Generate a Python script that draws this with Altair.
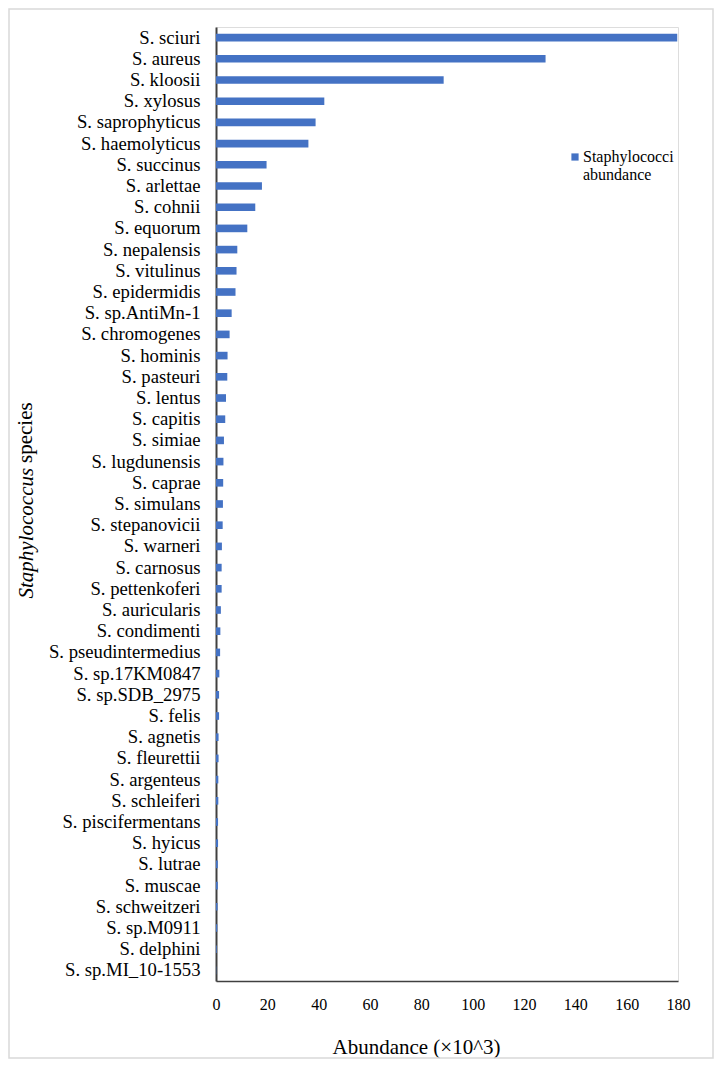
import altair as alt
import pandas as pd

species = [
    "S. sciuri", "S. aureus", "S. kloosii", "S. xylosus", "S. saprophyticus",
    "S. haemolyticus", "S. succinus", "S. arlettae", "S. cohnii", "S. equorum",
    "S. nepalensis", "S. vitulinus", "S. epidermidis", "S. sp.AntiMn-1",
    "S. chromogenes", "S. hominis", "S. pasteuri", "S. lentus", "S. capitis",
    "S. simiae", "S. lugdunensis", "S. caprae", "S. simulans", "S. stepanovicii",
    "S. warneri", "S. carnosus", "S. pettenkoferi", "S. auricularis",
    "S. condimenti", "S. pseudintermedius", "S. sp.17KM0847", "S. sp.SDB_2975",
    "S. felis", "S. agnetis", "S. fleurettii", "S. argenteus", "S. schleiferi",
    "S. piscifermentans", "S. hyicus", "S. lutrae", "S. muscae",
    "S. schweitzeri", "S. sp.M0911", "S. delphini", "S. sp.MI_10-1553",
]
abundance = [
    179.7, 128.4, 88.7, 42.2, 38.8,
    36.0, 19.7, 17.9, 15.3, 12.2,
    8.3, 8.0, 7.6, 6.1,
    5.3, 4.5, 4.4, 3.9, 3.6,
    3.1, 2.9, 2.8, 2.7, 2.6,
    2.3, 2.2, 2.2, 1.9,
    1.7, 1.6, 1.3, 1.2,
    1.2, 1.0, 1.0, 0.9, 0.9,
    0.8, 0.8, 0.7, 0.7,
    0.6, 0.5, 0.3, 0.1,
]
x_ticks = [0, 20, 40, 60, 80, 100, 120, 140, 160, 180]
series_name = "Staphylococci abundance"

FONT = "Liberation Serif"

df = pd.DataFrame({
    "species": species,
    "abundance": abundance,
    "series": [series_name] * len(species),
})

bars = alt.Chart(df).mark_bar(color="#4472C4").encode(
    x=alt.X(
        "abundance:Q",
        scale=alt.Scale(domain=[0, 180], nice=False, zero=True),
        axis=alt.Axis(
            values=x_ticks,
            grid=False,
            ticks=False,
            domainColor="#404040",
            domainWidth=1.5,
            labelFont=FONT,
            labelFontSize=16,
            labelColor="#000000",
            labelPadding=15,
            labelFlush=False,
            title="Abundance (×10^3)",
            titleFont=FONT,
            titleFontSize=21,
            titleFontWeight="normal",
            titleColor="#000000",
            titleX=200,
            titleY=72,
            titleAlign="center",
            titleBaseline="alphabetic",
        ),
    ),
    y=alt.Y(
        "species:N",
        sort=species,
        scale=alt.Scale(paddingInner=0.64, paddingOuter=0.32),
        axis=alt.Axis(
            grid=False,
            ticks=False,
            domainColor="#404040",
            domainWidth=2,
            labelFont=FONT,
            labelFontSize=18.7,
            labelColor="#000000",
            labelPadding=16,
            labelLimit=400,
            title="Staphylococcus",
            titleFont=FONT,
            titleFontSize=21,
            titleFontWeight="normal",
            titleFontStyle="italic",
            titleColor="#000000",
            titleAngle=270,
            titleX=-184,
            titleY=571,
            titleAlign="left",
            titleBaseline="alphabetic",
        ),
    ),
    color=alt.Color(
        "series:N",
        scale=alt.Scale(range=["#4472C4"]),
        legend=alt.Legend(
            orient="none",
            legendX=351,
            legendY=122,
            title=None,
            symbolType="square",
            symbolSize=52,
            symbolStrokeWidth=0,
            labelFont=FONT,
            labelFontSize=16,
            labelColor="#000000",
            labelBaseline="middle",
            labelExpr="split(datum.label, ' ')",
            labelLimit=300,
            labelOffset=0,
        ),
    ),
)

extra = pd.DataFrame({"t": ["species"]})

species_word = alt.Chart(extra).mark_text(
    font=FONT, fontSize=21, angle=270, align="left", baseline="alphabetic",
    color="#000000",
).encode(
    x=alt.value(-184),
    y=alt.value(436),
    text=alt.Text("t:N"),
)

border = alt.Chart(extra).mark_rect(
    fill=None, stroke="#d9d9d9", strokeWidth=1.5,
).encode(
    x=alt.value(-207),
    x2=alt.value(497),
    y=alt.value(-18),
    y2=alt.value(1031),
)

chart = alt.layer(border, bars, species_word).properties(
    width=462,
    height=954,
    autosize=alt.AutoSizeParams(type="none"),
    padding={"left": 208, "top": 19, "right": 36, "bottom": 78},
).configure_view(stroke=None).configure(background="white")

chart.save("out.html", embed_options={"renderer": "svg", "actions": False})
